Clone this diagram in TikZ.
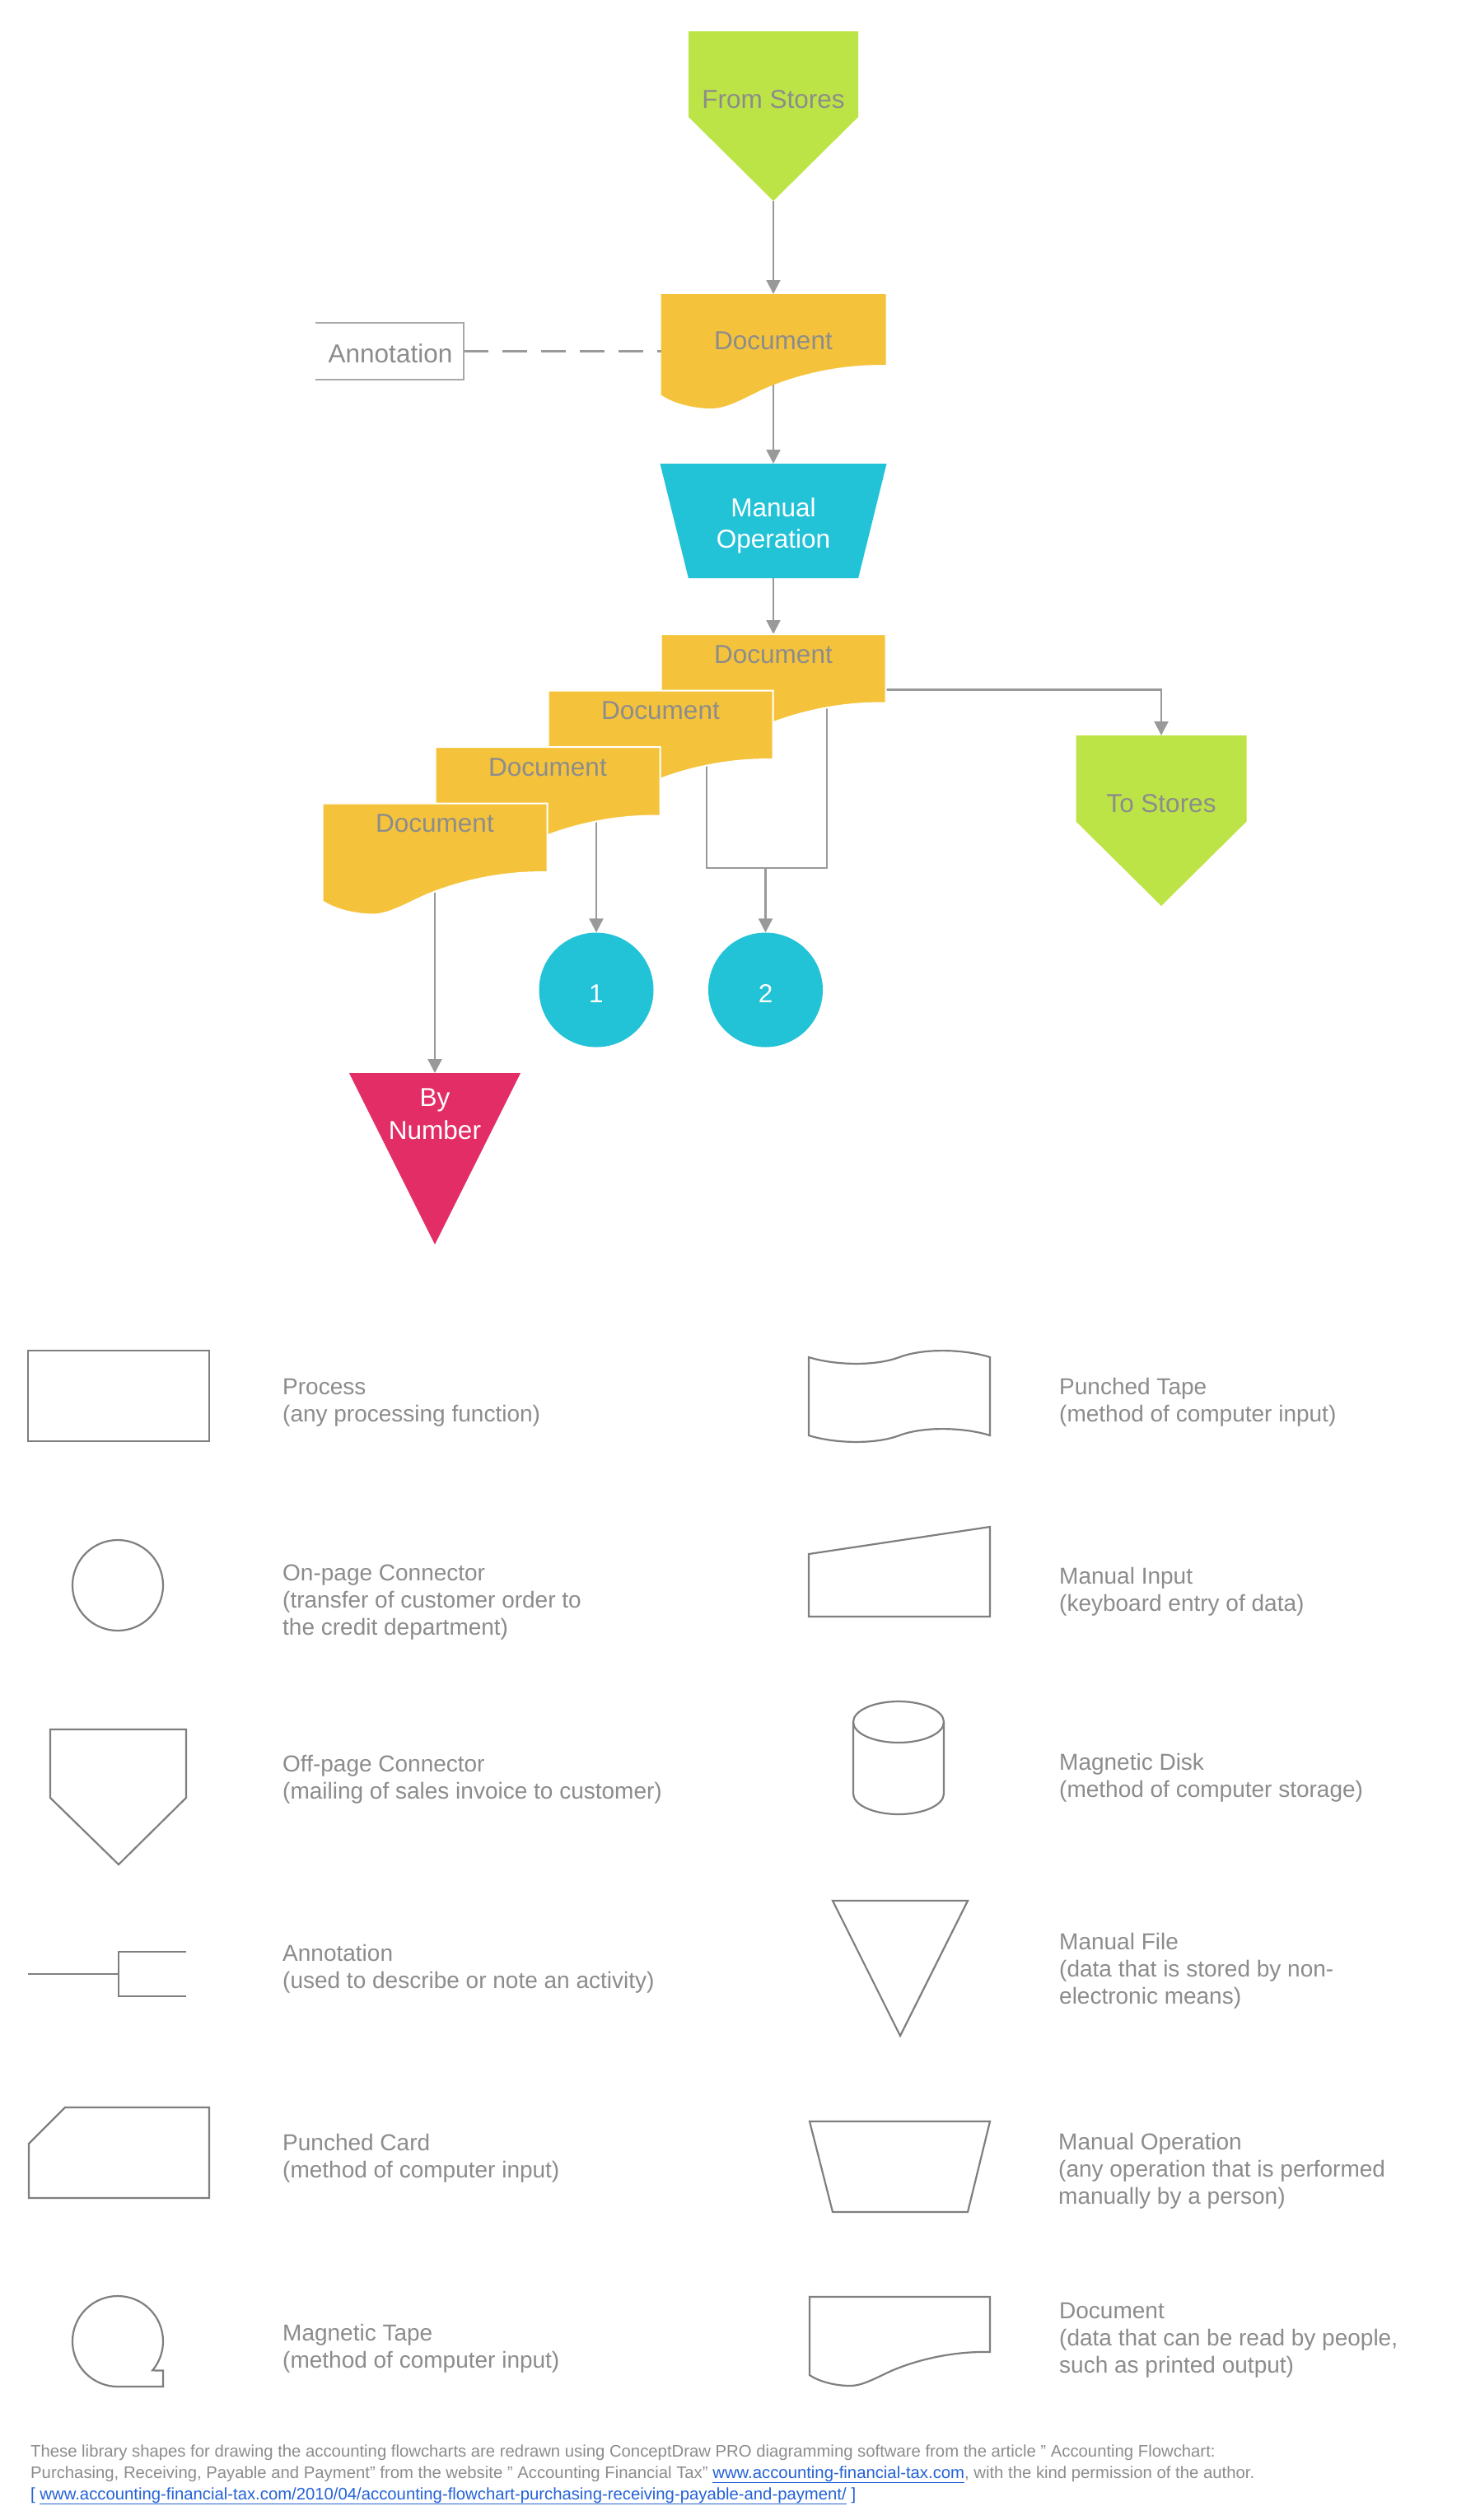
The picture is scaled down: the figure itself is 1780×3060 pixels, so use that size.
\documentclass[tikz,border=0pt]{standalone}
\usepackage{fontspec}
\setmainfont{Liberation Sans}
\usetikzlibrary{arrows.meta}
\definecolor{lime}{HTML}{BDE446}
\definecolor{docyel}{HTML}{F5C33B}
\definecolor{cyanop}{HTML}{22C2D7}
\definecolor{pinkfile}{HTML}{E32D67}
\definecolor{lngrey}{HTML}{999999}
\definecolor{txtgrey}{HTML}{8C8C8C}
\definecolor{legstroke}{HTML}{7F7F7F}
\definecolor{linkblue}{HTML}{2462D6}
\newcommand{\txtlines}[1]{\begin{tabular}[t]{@{}l@{}}#1\end{tabular}}
\newcommand{\ctrlines}[1]{\begin{tabular}[t]{@{}c@{}}#1\end{tabular}}
\tikzset{
  docpic/.pic={\path[pic actions] (0,0) -- (1,0) -- (1,0.62)
     .. controls (0.78,0.61) and (0.58,0.72) .. (0.45,0.835)
     .. controls (0.36,0.92) and (0.29,1.0) .. (0.225,1.0)
     .. controls (0.14,1.0) and (0.05,0.95) .. (0,0.88) -- cycle;},
  offpagepic/.pic={\path[pic actions] (0,0) -- (1,0) -- (1,0.505) -- (0.5,1) -- (0,0.505) -- cycle;},
  manoppic/.pic={\path[pic actions] (0,0) -- (1,0) -- (0.875,1) -- (0.125,1) -- cycle;}
}
\begin{document}
\begin{tikzpicture}[x=1pt, y=-1pt,
  holder/.style 2 args={draw=none, fill=none, inner sep=0pt, outer sep=0pt, anchor=north west, minimum width=#1pt, minimum height=#2pt},
  wire/.style={draw=lngrey, line width=2.2pt},
  arrowwire/.style={wire, -{Triangle[length=17pt, width=17pt]}},
  dashwire/.style={wire, dash pattern=on 30pt off 17pt},
  lbl/.style={font=\fontsize{31.5}{38}\selectfont, text=txtgrey, inner sep=0pt, anchor=base},
  wlbl/.style={lbl, text=white},
  legtxt/.style={font=\fontsize{28}{33}\selectfont, text=txtgrey, inner sep=0pt, anchor=base west},
  legline/.style={draw=legstroke, line width=2.2pt},
  stackdoc/.style={fill=docyel, draw=white, line width=2pt},
  conncircle/.style={circle, fill=cyanop, minimum size=139pt, inner sep=0pt}
]
\fill[white] (0,0) rectangle (1780,3060);
\useasboundingbox (0,0) rectangle (1780,3060);

% ---------- holder nodes ----------
\node[holder={206}{206}] (fromStores) at (836,38) {};
\node[holder={273}{139}] (doc1) at (802.5,357) {};
\node[holder={180}{69}] (annot) at (383,392) {};
\node[holder={275}{139}] (manop) at (801.5,563) {};
\node[holder={273}{135}] (docA) at (802.5,770) {};
\node[holder={273}{135}] (docB) at (665.5,838.5) {};
\node[holder={273}{135}] (docC) at (528.5,907) {};
\node[holder={273}{135}] (docD) at (391.5,975.5) {};
\node[holder={207}{207}] (toStores) at (1306.5,893) {};
\node[holder={208}{208}] (byNum) at (424,1303) {};
\node[conncircle] (c1) at (724,1202) {};
\node[conncircle] (c2) at (929.5,1202) {};
\coordinate (aOut) at (1004,840);
\coordinate (bOut) at (858,905);
\coordinate (jn) at (929.5,1054);

% ---------- connectors ----------
\draw[arrowwire] (fromStores.south) -- (doc1.north);
\draw[dashwire] (annot.east) -- (annot.east -| doc1.west);
\draw[arrowwire] (doc1.center) -- (manop.north);
\draw[arrowwire] (manop.south) -- (docA.north);
\draw[arrowwire] (docA.center) -| (toStores.north);
\draw[wire] (aOut) |- (jn) -| (bOut);
\draw[arrowwire] (jn) -- (c2.north);
\draw[arrowwire] (c1.north |- docC.center) -- (c1.north);
\draw[arrowwire] (docD.center) -- (byNum.north);

% ---------- shapes ----------
\pic[fill=lime, xscale=206, yscale=206] at (fromStores.north west) {offpagepic};
\pic[fill=docyel, xscale=273, yscale=139] at (doc1.north west) {docpic};
\draw[draw=lngrey!85!white, line width=2.4pt] (annot.north west) -- (annot.north east) -- (annot.south east) -- (annot.south west);
\pic[fill=cyanop, xscale=275, yscale=139] at (manop.north west) {manoppic};
\pic[stackdoc, xscale=273, yscale=135] at (docA.north west) {docpic};
\pic[stackdoc, xscale=273, yscale=135] at (docB.north west) {docpic};
\pic[stackdoc, xscale=273, yscale=135] at (docC.north west) {docpic};
\pic[stackdoc, xscale=273, yscale=135] at (docD.north west) {docpic};
\pic[fill=lime, xscale=207, yscale=207] at (toStores.north west) {offpagepic};
\fill[pinkfile] (byNum.north west) -- (byNum.north east) -- (byNum.south) -- cycle;

% ---------- labels ----------
\node[lbl] (tFrom) at (939,131) {From Stores};
\node[lbl] (tDoc1) at (939,424) {Document};
\node[lbl] (tAnnot) at (474,440) {Annotation};
\node[wlbl] (tManop) at (939,627) {\ctrlines{Manual\\Operation}};
\node[lbl] (tDocA) at (939,805) {Document};
\node[lbl] (tDocB) at (802,873) {Document};
\node[lbl] (tDocC) at (665,942) {Document};
\node[lbl] (tDocD) at (528,1010) {Document};
\node[wlbl] (t1) at (724,1217) {1};
\node[wlbl] (t2) at (929.5,1217) {2};
\node[lbl] (tTo) at (1410,986) {To Stores};
\node[wlbl, font=\fontsize{31.5}{40}\selectfont] (tBy) at (528,1343) {\ctrlines{By\\Number}};

% ---------- legend shapes ----------
\draw[legline] (34,1640) rectangle (254,1750);
\draw[legline] (143,1925) circle[radius=55];
\draw[legline] (61,2100) -- (226,2100) -- (226,2183) -- (144,2264) -- (61,2183) -- cycle;
\draw[legline] (34,2397) -- (144,2397);
\draw[legline] (226,2370) -- (144,2370) -- (144,2424) -- (226,2424);
\draw[legline] (79,2559) -- (254,2559) -- (254,2669) -- (35,2669) -- (35,2603) -- cycle;
\draw[legline] (143,2898) arc[start angle=90, end angle=400, radius=55] -- (198,2878.4) -- (198,2898) -- cycle;

\draw[legline] (982,1648) .. controls (1010,1657) and (1060,1660) .. (1092,1648)
   .. controls (1124,1636) and (1174,1639) .. (1202,1648) -- (1202,1743)
   .. controls (1174,1734) and (1124,1731) .. (1092,1743)
   .. controls (1060,1755) and (1010,1752) .. (982,1743) -- cycle;
\draw[legline] (982,1887) -- (1202,1854) -- (1202,1963) -- (982,1963) -- cycle;
\draw[legline] (1091,2091) ellipse[x radius=55, y radius=25];
\draw[legline] (1036,2091) -- (1036,2178) arc[start angle=180, end angle=0, x radius=55, y radius=25] -- (1146,2091);
\draw[legline] (1011,2308) -- (1175,2308) -- (1093,2472) -- cycle;
\draw[legline] (983,2576) -- (1202,2576) -- (1175,2686) -- (1011,2686) -- cycle;
\pic[legline, fill=none, xscale=219, yscale=108] at (983,2789) {docpic};

% ---------- legend texts ----------
\node[legtxt] (lProcess) at (343,1693) {\txtlines{Process\\(any processing function)}};
\node[legtxt] (lOnpage) at (343,1919) {\txtlines{On-page Connector\\(transfer of customer order to\\the credit department)}};
\node[legtxt] (lOffpage) at (343,2151) {\txtlines{Off-page Connector\\(mailing of sales invoice to customer)}};
\node[legtxt] (lAnnot) at (343,2381) {\txtlines{Annotation\\(used to describe or note an activity)}};
\node[legtxt] (lCard) at (343,2611) {\txtlines{Punched Card\\(method of computer input)}};
\node[legtxt] (lMagTape) at (343,2842) {\txtlines{Magnetic Tape\\(method of computer input)}};
\node[legtxt] (lTape) at (1286,1693) {\txtlines{Punched Tape\\(method of computer input)}};
\node[legtxt] (lInput) at (1286,1923) {\txtlines{Manual Input\\(keyboard entry of data)}};
\node[legtxt] (lDisk) at (1286,2149) {\txtlines{Magnetic Disk\\(method of computer storage)}};
\node[legtxt] (lFile) at (1286,2367) {\txtlines{Manual File\\(data that is stored by non-\\electronic means)}};
\node[legtxt] (lManop) at (1285,2610) {\txtlines{Manual Operation\\(any operation that is performed\\manually by a person)}};
\node[legtxt] (lDoc) at (1286,2815) {\txtlines{Document\\(data that can be read by people,\\such as printed output)}};

% ---------- footer ----------
\node[legtxt, font=\fontsize{20.3}{26}\selectfont] (footer) at (37,2983) {\txtlines{These library shapes for drawing the accounting flowcharts are redrawn using ConceptDraw PRO diagramming software from the article " Accounting Flowchart:\\
Purchasing, Receiving, Payable and Payment" from the website " Accounting Financial Tax" \textcolor{linkblue}{\underline{www.accounting-financial-tax.com}}, with the kind permission of the author.\\
\textcolor{linkblue}{[ \underline{www.accounting-financial-tax.com/2010/04/accounting-flowchart-purchasing-receiving-payable-and-payment/} ]}}};
\end{tikzpicture}
\end{document}
